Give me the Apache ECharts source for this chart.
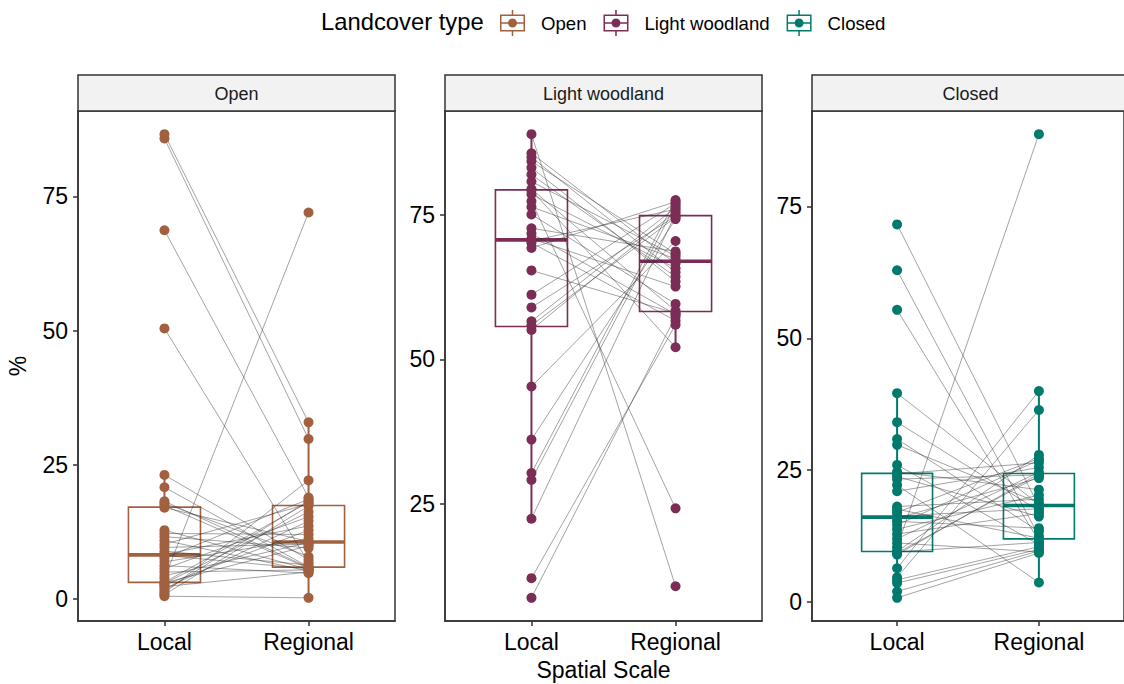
<!DOCTYPE html>
<html>
<head>
<meta charset="utf-8">
<script src="https://cdn.jsdelivr.net/npm/echarts@6/dist/echarts.min.js"></script>
<style>
  html, body { margin: 0; padding: 0; background: #fff; }
  #chart { width: 1124px; height: 684px; }
</style>
</head>
<body>
<div id="chart"></div>
<script>
// facets, x categories, colours
const panels = ["Open", "Light woodland", "Closed"];
const scales = ["Local", "Regional"];
const colors = ["#a1603f", "#7b2d55", "#007a6c"];

// paired site values (local[i] <-> regional[i])
const openLocal = [0.5, 0.8, 1.1, 1.5, 1.9, 2.3, 2.6, 2.9, 3.0, 3.1, 3.8, 4.3, 5.0, 5.6, 6.2, 6.9, 7.6, 8.1,
  8.3, 8.9, 9.6, 10.2, 10.9, 11.6, 12.2, 12.8, 17.0, 17.4, 17.8, 18.2, 20.8, 23.1, 50.4, 68.7, 85.8, 86.6];
const openRegional = [0.2, 17.3, 22.1, 18.3, 14.5, 5.0, 12.8, 16.2, 9.9, 18.0, 72.0, 10.5, 5.4, 15.3, 4.8, 11.2, 18.6, 5.6,
  13.6, 6.3, 10.2, 17.7, 5.2, 9.5, 12.0, 5.5, 10.7, 5.7, 7.9, 5.85, 5.95, 7.3, 6.8, 18.9, 29.8, 32.9];

const woodLocal = [89.0, 85.7, 85.0, 84.3, 83.2, 82.0, 80.8, 79.5, 79.3, 78.6, 77.4, 76.4, 75.1, 72.7, 71.8, 70.9,
  70.5, 70.2, 69.3, 65.4, 61.2, 59.0, 56.6, 55.9, 55.1, 45.3, 36.1, 30.3, 29.1, 22.4, 12.1, 8.7];
const woodRegional = [10.7, 66.6, 65.1, 68.3, 63.5, 64.3, 67.9, 58.4, 52.1, 65.8, 24.2, 67.4, 59.6, 68.7, 57.8, 62.6,
  76.0, 56.7, 77.3, 58.0, 77.0, 74.8, 76.3, 74.6, 75.6, 70.5, 74.3, 77.6, 76.7, 75.2, 56.0, 57.4];

const closedLocal = [71.6, 62.9, 55.4, 39.6, 34.1, 30.9, 29.8, 26.0, 24.7, 24.3, 23.8, 23.3, 22.2, 21.0, 18.1, 17.6, 17.0, 16.3,
  15.9, 15.3, 14.6, 13.8, 12.9, 12.0, 11.2, 10.4, 9.6, 9.5, 9.3, 9.0, 6.4, 4.7, 4.2, 3.6, 2.0, 0.8];
const closedRegional = [18.1, 12.5, 11.6, 18.5, 17.3, 13.4, 18.8, 10.9, 21.3, 26.4, 16.2, 24.1, 3.7, 25.5, 19.5, 12.1, 27.2, 17.7,
  23.5, 14.0, 26.9, 20.3, 16.8, 24.6, 9.5, 88.7, 27.9, 11.3, 23.9, 24.3, 40.0, 36.4, 10.5, 10.0, 9.7, 9.3];

const yTicks = [[0, 25, 50, 75], [25, 50, 75], [0, 25, 50, 75]];

const localData = [openLocal, woodLocal, closedLocal];
const regionalData = [openRegional, woodRegional, closedRegional];

const font = "'Liberation Sans', Arial, sans-serif";
const lefts = [78, 445, 812];
const gridW = 317;
const gridTop = 111;
const gridH = 510;

function quantile(sorted, p) {
  const pos = (sorted.length - 1) * p;
  const lo = Math.floor(pos);
  const hi = Math.ceil(pos);
  return sorted[lo] + (pos - lo) * (sorted[hi] - sorted[lo]);
}

// same stats as geom_boxplot: quartiles + 1.5 IQR whiskers
function boxStats(x, vals) {
  const s = vals.slice().sort((a, b) => a - b);
  const q1 = quantile(s, 0.25);
  const med = quantile(s, 0.5);
  const q3 = quantile(s, 0.75);
  const iqr = q3 - q1;
  const lo = s.filter((v) => v >= q1 - 1.5 * iqr)[0];
  const inside = s.filter((v) => v <= q3 + 1.5 * iqr);
  const hi = inside[inside.length - 1];
  return [x, lo, q1, med, q3, hi];
}

function renderBox(color) {
  return function (params, api) {
    const x = api.value(0);
    const lo = api.coord([x, api.value(1)]);
    const q1c = api.coord([x, api.value(2)]);
    const q3c = api.coord([x, api.value(4)]);
    const hi = api.coord([x, api.value(5)]);
    const tl = api.coord([x - 0.25, api.value(4)]);
    const br = api.coord([x + 0.25, api.value(2)]);
    const mL = api.coord([x - 0.25, api.value(3)]);
    const mR = api.coord([x + 0.25, api.value(3)]);
    return {
      type: "group",
      children: [
        { type: "line", shape: { x1: hi[0], y1: hi[1], x2: q3c[0], y2: q3c[1] }, style: { stroke: color, lineWidth: 2 } },
        { type: "line", shape: { x1: q1c[0], y1: q1c[1], x2: lo[0], y2: lo[1] }, style: { stroke: color, lineWidth: 2 } },
        {
          type: "rect",
          shape: { x: tl[0], y: tl[1], width: br[0] - tl[0], height: br[1] - tl[1] },
          style: { fill: "none", stroke: color, lineWidth: 1.6 },
        },
        { type: "line", shape: { x1: mL[0], y1: mL[1], x2: mR[0], y2: mR[1] }, style: { stroke: color, lineWidth: 3.6 } },
      ],
    };
  };
}

function renderPair(params, api) {
  const a = api.coord([1, api.value(0)]);
  const b = api.coord([2, api.value(1)]);
  return {
    type: "line",
    shape: { x1: a[0], y1: a[1], x2: b[0], y2: b[1] },
    style: { stroke: "rgba(50,50,50,0.75)", lineWidth: 0.6 },
  };
}

// boxplot glyph for the legend keys
const legendIcon =
  "path://M0,4.5 h25 v17 h-25 Z M1.5,6 v14 h22 v-14 Z " +
  "M11.75,0 h1.5 v4.5 h-1.5 Z M11.75,21.5 h1.5 v4.5 h-1.5 Z " +
  "M1.5,12.25 h22 v1.5 h-22 Z M8,13 a4.5,4.5 0 1,1 9,0 a4.5,4.5 0 1,1 -9,0 Z";

const grids = [];
const xAxes = [];
const yAxes = [];
const series = [];
const graphics = [];

panels.forEach((name, i) => {
  const local = localData[i];
  const regional = regionalData[i];
  const all = local.concat(regional);
  const dMin = Math.min(...all);
  const dMax = Math.max(...all);
  const pad = (dMax - dMin) * 0.05;

  grids.push({
    left: lefts[i], top: gridTop, width: gridW, height: gridH,
    show: true, borderColor: "#333", borderWidth: 1.5, backgroundColor: "#fff",
  });

  xAxes.push({
    type: "value", gridIndex: i, min: 0.4, max: 2.6,
    axisLine: { show: true, onZero: false, lineStyle: { color: "#333", width: 1.5 } },
    axisTick: { show: true, length: 5, customValues: [1, 2], lineStyle: { color: "#333", width: 1.5 } },
    axisLabel: {
      customValues: [1, 2], formatter: (v) => scales[Math.round(v) - 1],
      fontSize: 23, color: "#000", fontFamily: font, margin: 9,
    },
    splitLine: { show: false },
  });

  yAxes.push({
    type: "value", gridIndex: i, min: dMin - pad, max: dMax + pad,
    name: i === 0 ? "%" : "",
    nameLocation: "middle", nameGap: 49, nameRotate: 90,
    nameTextStyle: { fontSize: 23, color: "#000", fontFamily: font },
    axisLine: { show: true, onZero: false, lineStyle: { color: "#333", width: 1.5 } },
    axisTick: { show: true, length: 5, customValues: yTicks[i], lineStyle: { color: "#333", width: 1.5 } },
    axisLabel: { customValues: yTicks[i], fontSize: 23, color: "#000", fontFamily: font, margin: 10 },
    splitLine: { show: false },
  });

  series.push({
    type: "custom", name: name + " box", xAxisIndex: i, yAxisIndex: i, z: 1, silent: true,
    renderItem: renderBox(colors[i]),
    data: [boxStats(1, local), boxStats(2, regional)],
    encode: { x: 0, y: [1, 5] },
  });

  series.push({
    type: "custom", name: name + " pairs", xAxisIndex: i, yAxisIndex: i, z: 2, silent: true,
    renderItem: renderPair,
    data: local.map((v, k) => [v, regional[k]]),
    encode: { y: [0, 1] },
  });

  series.push({
    type: "scatter", name: name, xAxisIndex: i, yAxisIndex: i, z: 3,
    symbolSize: 10,
    itemStyle: { color: colors[i], opacity: 1 },
    data: local.map((v) => [1, v]).concat(regional.map((v) => [2, v])),
  });

  // facet strip
  graphics.push({
    type: "rect", z: 10,
    shape: { x: lefts[i], y: 75, width: gridW, height: 36 },
    style: { fill: "#f2f2f2", stroke: "#333", lineWidth: 1.5 },
  });
  graphics.push({
    type: "text", z: 11, x: lefts[i] + gridW / 2, y: 94,
    style: { text: name, fontSize: 18, fontFamily: font, fill: "#1a1a1a", align: "center", verticalAlign: "middle" },
  });
});

// shared x axis title
graphics.push({
  type: "text", z: 11, x: lefts[1] + gridW / 2, y: 670,
  style: { text: "Spatial Scale", fontSize: 23, fontFamily: font, fill: "#000", align: "center", verticalAlign: "middle" },
});

const chart = echarts.init(document.getElementById("chart"), null, { renderer: "svg" });

chart.setOption({
  animation: false,
  backgroundColor: "#fff",
  textStyle: { fontFamily: font },
  title: {
    text: "Landcover type", left: 321, top: 9, padding: 0,
    textStyle: { fontSize: 23.8, fontWeight: "normal", color: "#000", fontFamily: font },
  },
  legend: {
    left: 500, top: 10, padding: 0, itemWidth: 25, itemHeight: 26, itemGap: 17,
    selectedMode: false,
    data: panels.map((p) => ({ name: p, icon: legendIcon })),
    textStyle: { fontSize: 18.6, color: "#000", fontFamily: font, padding: [0, 0, 0, 11] },
  },
  grid: grids,
  xAxis: xAxes,
  yAxis: yAxes,
  series: series,
  graphic: graphics,
});
</script>
</body>
</html>
